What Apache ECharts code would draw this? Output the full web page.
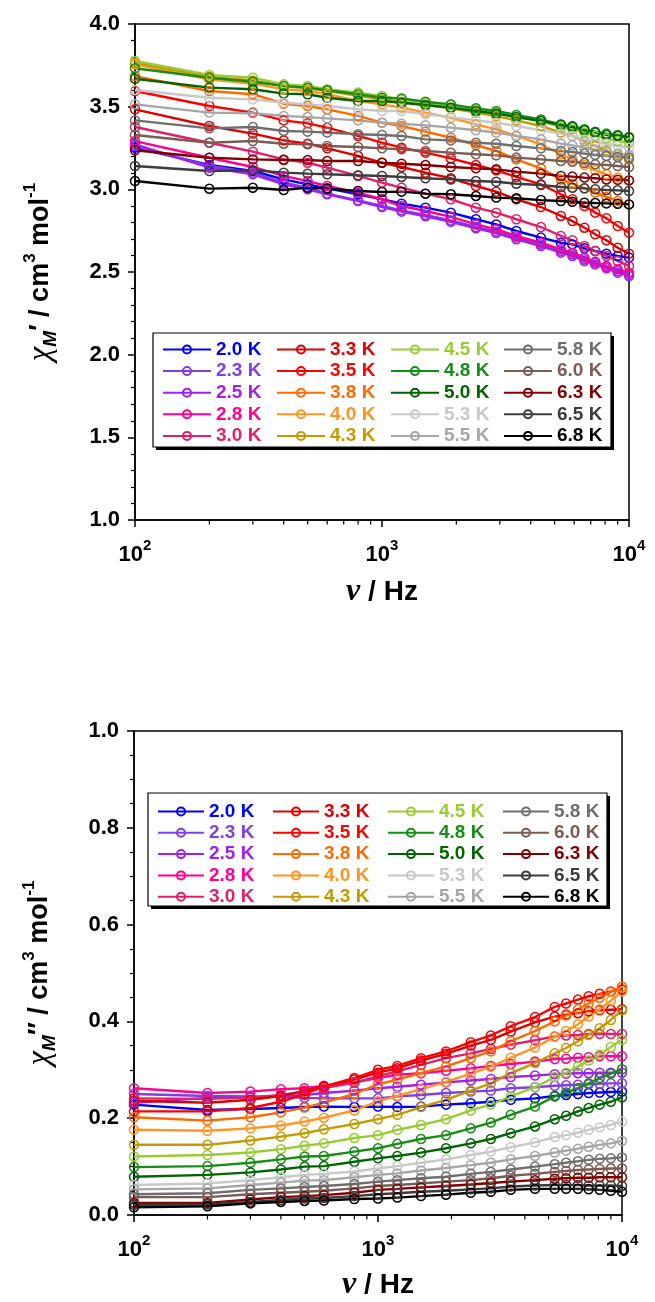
<!DOCTYPE html>
<html><head><meta charset="utf-8">
<script src="https://cdn.jsdelivr.net/npm/echarts@6/dist/echarts.min.js"></script>
<style>html,body{margin:0;padding:0;background:#fff}#c{width:655px;height:1302px}</style>
</head><body><div id="c"></div>
<script>
// ---------- data ----------
const freq = [100,200,300,400,500,600,800,1000,1200,1500,1900,2400,2900,3500,4400,5300,5900,6600,7300,8100,9000,10000];
const minorFreq = [200,300,400,500,600,700,800,900,2000,3000,4000,5000,6000,7000,8000,9000];
const temps = ['2.0 K','2.3 K','2.5 K','2.8 K','3.0 K','3.3 K','3.5 K','3.8 K','4.0 K','4.3 K','4.5 K','4.8 K','5.0 K','5.3 K','5.5 K','5.8 K','6.0 K','6.3 K','6.5 K','6.8 K'];
const colors = ['#0000FF','#8040E0','#A020F0','#FF0090','#E0206A','#E00000','#FF0000','#FF6A00','#FF9422','#C49A00','#99CC33','#168E16','#006400','#C8C8C8','#A6A6A6','#6E6E6E','#7A5C55','#800000','#3C3C3C','#000000'];
const yTicksTop = [1.0,1.5,2.0,2.5,3.0,3.5,4.0];
const yTicksBottom = [0.0,0.2,0.4,0.6,0.8,1.0];

// chi' (cm3 mol-1)
const chiP_20 = [3.252,3.147,3.111,3.060,3.030,3.006,2.970,2.940,2.913,2.889,2.859,2.819,2.788,2.748,2.708,2.677,2.667,2.643,2.627,2.611,2.597,2.587];
const chiP_23 = [3.262,3.141,3.101,3.040,3.010,2.974,2.933,2.899,2.873,2.845,2.812,2.772,2.744,2.708,2.667,2.627,2.607,2.577,2.556,2.530,2.506,2.486];
const chiP_25 = [3.272,3.131,3.091,3.030,3.000,2.970,2.929,2.893,2.865,2.837,2.804,2.764,2.736,2.698,2.657,2.617,2.597,2.567,2.546,2.522,2.496,2.476];
const chiP_28 = [3.292,3.191,3.135,3.081,3.050,3.020,2.980,2.940,2.899,2.869,2.833,2.788,2.758,2.718,2.677,2.637,2.617,2.587,2.562,2.536,2.516,2.496];
const chiP_30 = [3.377,3.282,3.228,3.181,3.161,3.131,3.081,3.040,3.010,2.974,2.940,2.889,2.859,2.819,2.772,2.718,2.692,2.657,2.627,2.597,2.567,2.536];
const chiP_33 = [3.484,3.383,3.337,3.296,3.276,3.248,3.202,3.161,3.135,3.101,3.067,3.020,2.986,2.940,2.893,2.839,2.808,2.768,2.728,2.692,2.647,2.611];
const chiP_35 = [3.595,3.504,3.464,3.417,3.399,3.373,3.323,3.282,3.252,3.222,3.187,3.147,3.115,3.075,3.030,2.970,2.940,2.899,2.859,2.825,2.778,2.738];
const chiP_38 = [3.685,3.595,3.575,3.518,3.504,3.484,3.444,3.403,3.383,3.349,3.312,3.268,3.232,3.181,3.127,3.060,3.034,3.006,2.980,2.954,2.929,2.909];
const chiP_40 = [3.756,3.665,3.639,3.605,3.595,3.575,3.534,3.514,3.494,3.464,3.433,3.393,3.363,3.323,3.272,3.212,3.181,3.147,3.115,3.091,3.071,3.054];
const chiP_43 = [3.766,3.681,3.659,3.625,3.611,3.595,3.565,3.544,3.530,3.510,3.490,3.464,3.443,3.417,3.383,3.343,3.323,3.292,3.262,3.236,3.208,3.181];
const chiP_45 = [3.776,3.692,3.675,3.635,3.625,3.605,3.585,3.565,3.544,3.524,3.508,3.484,3.464,3.437,3.413,3.377,3.363,3.343,3.323,3.308,3.292,3.282];
const chiP_48 = [3.732,3.675,3.651,3.625,3.615,3.599,3.575,3.554,3.550,3.530,3.514,3.490,3.474,3.450,3.423,3.393,3.383,3.363,3.349,3.337,3.329,3.317];
const chiP_50 = [3.669,3.615,3.605,3.579,3.575,3.554,3.534,3.534,3.524,3.510,3.494,3.474,3.458,3.437,3.413,3.389,3.377,3.357,3.343,3.329,3.323,3.312];
const chiP_53 = [3.601,3.554,3.544,3.524,3.514,3.504,3.484,3.474,3.474,3.454,3.437,3.417,3.403,3.383,3.357,3.337,3.323,3.302,3.288,3.276,3.262,3.252];
const chiP_55 = [3.514,3.464,3.460,3.444,3.437,3.429,3.417,3.403,3.397,3.387,3.373,3.357,3.343,3.323,3.302,3.276,3.266,3.252,3.240,3.228,3.216,3.206];
const chiP_58 = [3.417,3.369,3.377,3.353,3.349,3.343,3.333,3.329,3.323,3.302,3.296,3.282,3.276,3.262,3.248,3.232,3.226,3.216,3.208,3.202,3.196,3.192];
const chiP_60 = [3.329,3.282,3.292,3.276,3.272,3.262,3.256,3.248,3.242,3.232,3.222,3.212,3.206,3.192,3.181,3.171,3.167,3.159,3.151,3.147,3.141,3.135];
const chiP_63 = [3.236,3.191,3.181,3.177,3.177,3.171,3.171,3.161,3.155,3.147,3.135,3.127,3.121,3.107,3.095,3.081,3.077,3.071,3.067,3.060,3.058,3.054];
const chiP_65 = [3.141,3.111,3.115,3.101,3.095,3.091,3.085,3.081,3.075,3.067,3.060,3.050,3.046,3.034,3.026,3.014,3.010,3.006,3.000,2.996,2.994,2.990];
const chiP_68 = [3.050,3.004,3.010,2.996,3.010,3.004,2.990,2.984,2.986,2.974,2.970,2.960,2.950,2.946,2.935,2.929,2.925,2.919,2.917,2.915,2.913,2.909];

// chi'' (cm3 mol-1)
const chiPP_20 = [0.228,0.217,0.219,0.221,0.223,0.224,0.223,0.224,0.223,0.224,0.228,0.231,0.234,0.238,0.241,0.246,0.248,0.250,0.252,0.253,0.254,0.255];
const chiPP_23 = [0.250,0.246,0.245,0.244,0.242,0.241,0.241,0.241,0.245,0.248,0.252,0.255,0.257,0.262,0.264,0.267,0.268,0.269,0.270,0.271,0.272,0.272];
const chiPP_25 = [0.232,0.242,0.243,0.245,0.248,0.252,0.257,0.262,0.265,0.269,0.274,0.278,0.281,0.285,0.288,0.291,0.292,0.293,0.293,0.294,0.294,0.294];
const chiPP_28 = [0.262,0.252,0.255,0.260,0.262,0.267,0.274,0.283,0.290,0.293,0.298,0.303,0.308,0.312,0.317,0.322,0.323,0.325,0.326,0.328,0.328,0.328];
const chiPP_30 = [0.241,0.240,0.243,0.248,0.255,0.262,0.273,0.287,0.297,0.310,0.324,0.334,0.343,0.352,0.361,0.369,0.371,0.372,0.374,0.374,0.374,0.374];
const chiPP_33 = [0.236,0.232,0.238,0.246,0.256,0.266,0.280,0.294,0.303,0.319,0.333,0.350,0.362,0.379,0.398,0.410,0.414,0.417,0.421,0.423,0.424,0.425];
const chiPP_35 = [0.214,0.214,0.221,0.234,0.250,0.265,0.283,0.300,0.308,0.324,0.338,0.357,0.371,0.390,0.409,0.430,0.437,0.445,0.452,0.457,0.462,0.466];
const chiPP_38 = [0.202,0.195,0.202,0.212,0.222,0.232,0.250,0.270,0.280,0.293,0.307,0.324,0.338,0.359,0.380,0.400,0.412,0.425,0.437,0.449,0.461,0.472];
const chiPP_40 = [0.176,0.174,0.179,0.185,0.193,0.201,0.216,0.235,0.246,0.260,0.275,0.292,0.306,0.325,0.346,0.368,0.380,0.394,0.410,0.425,0.443,0.462];
const chiPP_43 = [0.145,0.145,0.154,0.162,0.169,0.177,0.188,0.198,0.207,0.223,0.238,0.257,0.272,0.293,0.314,0.334,0.345,0.359,0.372,0.386,0.403,0.423];
const chiPP_45 = [0.121,0.124,0.129,0.136,0.143,0.148,0.159,0.165,0.176,0.186,0.198,0.216,0.228,0.245,0.264,0.285,0.294,0.307,0.319,0.331,0.347,0.362];
const chiPP_48 = [0.099,0.101,0.108,0.115,0.121,0.122,0.131,0.138,0.147,0.157,0.165,0.179,0.191,0.207,0.224,0.245,0.253,0.262,0.272,0.283,0.292,0.301];
const chiPP_50 = [0.079,0.083,0.088,0.094,0.100,0.101,0.110,0.117,0.122,0.129,0.138,0.148,0.157,0.169,0.183,0.198,0.205,0.214,0.221,0.228,0.234,0.243];
const chiPP_53 = [0.062,0.065,0.072,0.078,0.083,0.085,0.090,0.096,0.101,0.108,0.115,0.124,0.131,0.140,0.150,0.161,0.165,0.170,0.176,0.181,0.186,0.193];
const chiPP_55 = [0.053,0.055,0.062,0.067,0.071,0.072,0.078,0.083,0.086,0.092,0.097,0.103,0.108,0.115,0.122,0.129,0.133,0.137,0.141,0.145,0.148,0.153];
const chiPP_58 = [0.043,0.045,0.052,0.055,0.058,0.060,0.064,0.069,0.072,0.076,0.079,0.085,0.089,0.094,0.100,0.105,0.108,0.111,0.114,0.116,0.117,0.119];
const chiPP_60 = [0.037,0.037,0.043,0.046,0.048,0.050,0.055,0.060,0.062,0.065,0.069,0.072,0.076,0.081,0.085,0.089,0.091,0.093,0.094,0.095,0.096,0.096];
const chiPP_63 = [0.025,0.025,0.032,0.037,0.039,0.041,0.046,0.052,0.054,0.057,0.060,0.063,0.066,0.069,0.072,0.075,0.076,0.077,0.077,0.078,0.078,0.078];
const chiPP_65 = [0.021,0.022,0.027,0.031,0.034,0.035,0.039,0.043,0.045,0.048,0.050,0.053,0.055,0.059,0.061,0.062,0.062,0.062,0.061,0.061,0.061,0.060];
const chiPP_68 = [0.016,0.018,0.024,0.027,0.029,0.030,0.033,0.034,0.036,0.039,0.042,0.046,0.048,0.052,0.054,0.054,0.054,0.054,0.053,0.052,0.050,0.048];

const chiP = [chiP_20,chiP_23,chiP_25,chiP_28,chiP_30,chiP_33,chiP_35,chiP_38,chiP_40,chiP_43,chiP_45,chiP_48,chiP_50,chiP_53,chiP_55,chiP_58,chiP_60,chiP_63,chiP_65,chiP_68];
const chiPP = [chiPP_20,chiPP_23,chiPP_25,chiPP_28,chiPP_30,chiPP_33,chiPP_35,chiPP_38,chiPP_40,chiPP_43,chiPP_45,chiPP_48,chiPP_50,chiPP_53,chiPP_55,chiPP_58,chiPP_60,chiPP_63,chiPP_65,chiPP_68];

// ---------- chart ----------
const SANS = 'Liberation Sans, Arial, sans-serif';
const SERIF = 'Liberation Serif, Times New Roman, serif';
const chart = echarts.init(document.getElementById('c'), null, {renderer:'canvas'});

const labelRich = {
  a:{fontFamily:SANS,fontWeight:'bold',fontSize:22,color:'#000',verticalAlign:'bottom',lineHeight:28},
  b:{fontFamily:SANS,fontWeight:'bold',fontSize:15,color:'#000',verticalAlign:'top',lineHeight:28}
};
function xAxisCfg(gi){
  return {
    type:'log', logBase:10, min:100, max:10000, gridIndex:gi, splitNumber:2,
    name:'{nu|ν}{n| / Hz}', nameLocation:'middle', nameGap: gi===0?55:53,
    nameTextStyle:{rich:{
      nu:{fontFamily:SERIF,fontStyle:'italic',fontWeight:'bold',fontSize:32,color:'#000',lineHeight:34},
      n:{fontFamily:SANS,fontWeight:'bold',fontSize:28,color:'#000',lineHeight:34}}},
    axisLine:{show:true,lineStyle:{color:'#000',width:1.5}},
    axisTick:{show:true,length:7,inside:false,lineStyle:{color:'#000',width:1.5}},
    splitLine:{show:false},
    axisLabel:{margin:18,formatter:v=>'{a|10}{b|'+Math.round(Math.log10(v))+'}',rich:labelRich}
  };
}
function yAxisCfg(gi,min,max,interval,minorSplit,nameRich){
  return {
    type:'value', gridIndex:gi, min, max, interval,
    name:nameRich, nameLocation:'middle', nameRotate:90, nameGap:75,
    nameTextStyle:{rich:{
      chi:{fontFamily:SERIF,fontStyle:'italic',fontSize:33,color:'#000',verticalAlign:'middle',lineHeight:38},
      sub:{fontFamily:SANS,fontStyle:'italic',fontWeight:'bold',fontSize:19,color:'#000',verticalAlign:'bottom',lineHeight:38},
      n:{fontFamily:SANS,fontWeight:'bold',fontSize:27,color:'#000',verticalAlign:'middle',lineHeight:38},
      sup:{fontFamily:SANS,fontWeight:'bold',fontSize:17,color:'#000',verticalAlign:'top',lineHeight:38}}},
    axisLine:{show:true,lineStyle:{color:'#000',width:1.5}},
    axisTick:{show:true,length:7,inside:false,lineStyle:{color:'#000',width:1.5}},
    minorTick:{show:true,splitNumber:minorSplit,length:4,lineStyle:{color:'#000',width:1.2}},
    splitLine:{show:false}, minorSplitLine:{show:false},
    axisLabel:{margin:15,fontFamily:SANS,fontWeight:'bold',fontSize:22,color:'#000',formatter:v=>v.toFixed(1)}
  };
}

const series = [];
temps.forEach((t,i)=>{
  const base = {
    name:t, type:'line', symbol:'circle', symbolSize:9, showSymbol:true,
    lineStyle:{color:colors[i],width:2.4},
    itemStyle:{color:'rgba(255,255,255,0)',borderColor:colors[i],borderWidth:1.5},
    color:colors[i], emphasis:{disabled:true}, animation:false, z:2
  };
  series.push(Object.assign({}, base, {xAxisIndex:0,yAxisIndex:0,data:freq.map((f,k)=>[f,chiP[i][k]])}));
  series.push(Object.assign({}, base, {xAxisIndex:1,yAxisIndex:1,data:freq.map((f,k)=>[f,chiPP[i][k]])}));
});
// minor x ticks (log axis) drawn through the axis scale
[0,1].forEach(gi=>{
  const ymin = gi===0?1:0;
  series.push({
    type:'custom', xAxisIndex:gi, yAxisIndex:gi, silent:true, clip:false, animation:false, z:5,
    data:minorFreq.map(f=>[f,ymin]),
    renderItem:(params,api)=>{
      const p = api.coord([api.value(0),api.value(1)]);
      return {type:'line',shape:{x1:p[0],y1:p[1],x2:p[0],y2:p[1]+4.5},style:{stroke:'#000',lineWidth:1.2}};
    }
  });
});

function mkLegend(idxs,left,top,gap,w){
  return {
    orient:'vertical', left, top, itemWidth:w, itemHeight:10, itemGap:gap, selectedMode:false, padding:0,
    data: idxs.map(i=>({name:temps[i],textStyle:{color:colors[i]}})),
    textStyle:{fontFamily:SANS,fontWeight:'bold',fontSize:19,lineHeight:18,padding:[0,0,0,0]}
  };
}
const cols = [[0,1,2,3,4],[5,6,7,8,9],[10,11,12,13,14],[15,16,17,18,19]];
const legTopX = [162,276,390,503], legBotX = [157,272,387,502];
const legends = [];
cols.forEach((c,j)=>legends.push(mkLegend(c,legTopX[j],340,2.6,48)));
cols.forEach((c,j)=>legends.push(mkLegend(c,legBotX[j],802,2.3,46)));

chart.setOption({
  animation:false,
  backgroundColor:'#fff',
  grid:[
    {left:135,top:24,width:494,height:496,show:true,borderColor:'#000',borderWidth:1.5,backgroundColor:'transparent'},
    {left:134,top:731,width:488,height:487,show:true,borderColor:'#000',borderWidth:1.5,backgroundColor:'transparent'}
  ],
  xAxis:[xAxisCfg(0),xAxisCfg(1)],
  yAxis:[
    yAxisCfg(0,yTicksTop[0],yTicksTop[yTicksTop.length-1],0.5,5,'{chi|χ}{sub|M}{n|′ / cm}{sup|3}{n| mol}{sup|-1}'),
    yAxisCfg(1,yTicksBottom[0],yTicksBottom[yTicksBottom.length-1],0.2,4,'{chi|χ}{sub|M}{n|″ / cm}{sup|3}{n| mol}{sup|-1}')
  ],
  legend:legends,
  graphic:[
    {type:'rect',z:3,shape:{x:156,y:336,width:458,height:114},style:{fill:'#000'}},
    {type:'rect',z:3,shape:{x:153,y:333,width:458,height:114},style:{fill:'#fff',stroke:'#000',lineWidth:1.2}},
    {type:'rect',z:3,shape:{x:151,y:796,width:459,height:113},style:{fill:'#000'}},
    {type:'rect',z:3,shape:{x:148,y:793,width:459,height:113},style:{fill:'#fff',stroke:'#000',lineWidth:1.2}}
  ],
  series
});
</script>
</body></html>
